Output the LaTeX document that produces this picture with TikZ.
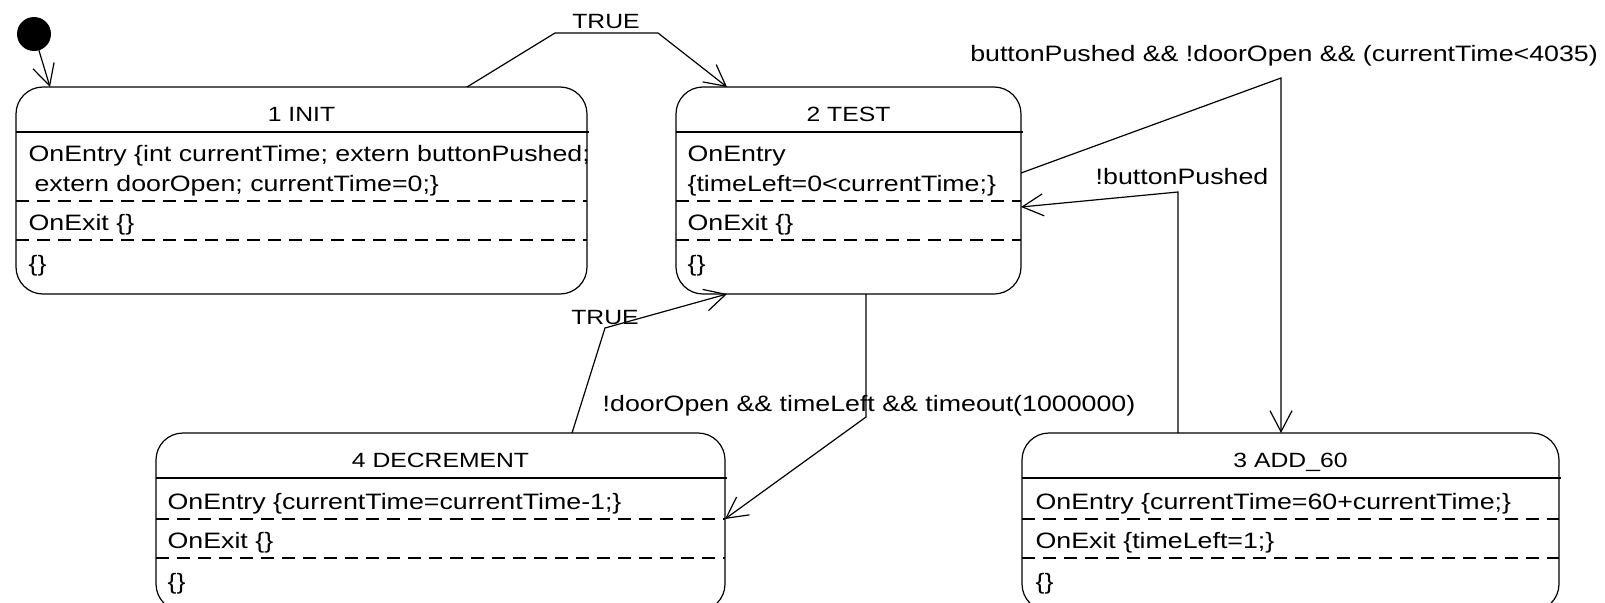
\documentclass[tikz,border=0pt]{standalone}
\usepackage{fontspec}
\setmainfont[FakeStretch=1.2]{Liberation Sans}
\usetikzlibrary{arrows.meta,calc}

\begin{document}
\begin{tikzpicture}[x=1pt, y=-1pt, line width=1.2pt,
  statebox/.style={draw, rounded corners=27pt, inner sep=0pt, outer sep=0pt, anchor=north west},
  dsep/.style={dash pattern=on 13pt off 8pt},
  tr/.style={-{Straight Barb[length=21pt,width=22pt]}},
  body/.style={inner sep=0pt, anchor=base west, font=\fontsize{22.3}{30}\selectfont},
  ttl/.style={inner sep=0pt, anchor=base, font=\fontsize{20.6}{24}\selectfont},
  lbl/.style={inner sep=0pt, anchor=base, font=\fontsize{22.3}{30}\selectfont}]

\useasboundingbox (0,0) rectangle (1605,602);
\clip (0,0) rectangle (1605,602);

% initial pseudo-state
\node[circle, fill=black, minimum size=34pt, inner sep=0pt, outer sep=0pt] (start) at (34,34) {};

% ---- state boxes ----
\node[statebox, minimum width=571pt, minimum height=207pt] (init) at (16,87) {};
\node[statebox, minimum width=345pt, minimum height=207pt] (test) at (676,87) {};
\node[statebox, minimum width=569pt, minimum height=178pt] (dec)  at (156,433) {};
\node[statebox, minimum width=537pt, minimum height=178pt] (add)  at (1022,433) {};

% compartments of 1 INIT
\draw (16,132) -- (589,132);
\draw[dsep] (16,201) -- (587,201);
\draw[dsep] (16,240) -- (587,240);
\node[ttl]  (initT) at (301.5,121) {1 INIT};
\node[body] (initE1) at (28,161) {OnEntry \{int currentTime; extern buttonPushed;};
\node[body] (initE2) at (34,191) {extern doorOpen; currentTime=0;\}};
\node[body] (initX) at (28,230) {OnExit \{\}};
\node[body] (initD) at (28,271) {\{\}};

% compartments of 2 TEST
\draw (676,132) -- (1023,132);
\draw[dsep] (676,201) -- (1021,201);
\draw[dsep] (676,240) -- (1021,240);
\node[ttl]  (testT) at (848.5,121) {2 TEST};
\node[body] (testE1) at (687,161) {OnEntry};
\node[body] (testE2) at (687,191) {\{timeLeft=0<currentTime;\}};
\node[body] (testX) at (687,230) {OnExit \{\}};
\node[body] (testD) at (687,271) {\{\}};

% compartments of 4 DECREMENT
\draw (156,478) -- (727,478);
\draw[dsep] (156,519) -- (725,519);
\draw[dsep] (156,558) -- (725,558);
\node[ttl]  (decT) at (440.5,467) {4 DECREMENT};
\node[body] (decE) at (167,509) {OnEntry \{currentTime=currentTime-1;\}};
\node[body] (decX) at (167,548) {OnExit \{\}};
\node[body] (decD) at (167,589) {\{\}};

% compartments of 3 ADD_60
\draw (1022,478) -- (1561,478);
\draw[dsep] (1022,519) -- (1559,519);
\draw[dsep] (1022,558) -- (1559,558);
\node[ttl]  (addT) at (1290.5,467) {3 ADD\_60};
\node[body] (addE) at (1035,509) {OnEntry \{currentTime=60+currentTime;\}};
\node[body] (addX) at (1035,548) {OnExit \{timeLeft=1;\}};
\node[body] (addD) at (1035,589) {\{\}};

% ---- transitions ----
\draw[tr] (start) -- ($(init.north west)+(34,0)$);

\draw[tr] ($(init.north west)+(451,0)$) -- (555,33) -- (658,33) -- ($(test.north west)+(51,0)$);
\node[ttl] (t1) at (606,29) {TRUE};

\draw[tr] ($(test.north east)+(0,86)$) -- (1281,78) -- ($(add.north west)+(259,0)$);
\node[lbl] (t2) at (1284,62) {buttonPushed \&\& !doorOpen \&\& (currentTime<4035)};

\draw[tr] ($(add.north west)+(156,0)$) -- (1178,192) -- ($(test.north east)+(0,120)$);
\node[lbl] (t3) at (1182,184) {!buttonPushed};

\draw[tr] ($(test.south west)+(190,0)$) -- (866,417) -- ($(dec.north east)+(0,86)$);
\node[lbl] (t4) at (869,411) {!doorOpen \&\& timeLeft \&\& timeout(1000000)};

\draw[tr] ($(dec.north west)+(416,0)$) -- (605,328) -- ($(test.south west)+(51,0)$);
\node[ttl] (t5) at (605,324) {TRUE};

\end{tikzpicture}
\end{document}
